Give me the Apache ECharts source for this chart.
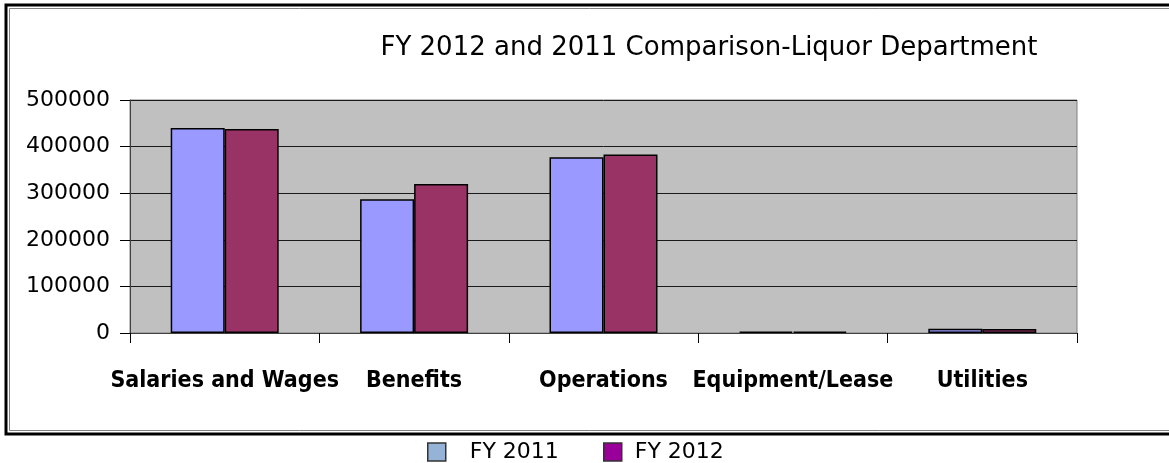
<!DOCTYPE html>
<html>
<head>
<meta charset="utf-8">
<title>FY 2012 and 2011 Comparison-Liquor Department</title>
<script src="https://cdn.jsdelivr.net/npm/echarts@6/dist/echarts.min.js"></script>
<style>
	html, body { margin: 0; padding: 0; background: #ffffff; }
	#chart { width: 1169px; height: 463px; }
</style>
</head>
<body>
<div id="chart"></div>
<script>
	// data
	const categories = ['Salaries and Wages', 'Benefits', 'Operations', 'Equipment/Lease', 'Utilities']
	const fy2011 = [440000, 287000, 377000, 3000, 9000]
	const fy2012 = [438000, 320000, 383000, 3000, 8500]
	const yTicks = [0, 100000, 200000, 300000, 400000, 500000]

	let mychart = echarts.init(document.getElementById('chart'))
	let option = {
		backgroundColor: '#ffffff',
		animation: false,
		title: {
			text: 'FY 2012 and 2011 Comparison-Liquor Department',
			left: 704,
			top: 30,
			textAlign: 'center',
			textStyle: {
				fontFamily: 'DejaVu Sans',
				fontSize: 26,
				fontWeight: 'normal',
				color: '#000000'
			}
		},
		legend: [{
				left: 427,
				top: 441,
				padding: 0,
				itemWidth: 18,
				itemHeight: 18,
				icon: 'rect',
				textStyle: {
					fontFamily: 'DejaVu Sans',
					fontSize: 22,
					color: '#000000',
					padding: [0, 0, 0, 19]
				},
				data: [{
					name: 'FY 2011',
					itemStyle: {
						color: '#95b3d7',
						borderColor: '#333333',
						borderWidth: 1.5
					}
				}]
			},
			{
				left: 603,
				top: 441,
				padding: 0,
				itemWidth: 18,
				itemHeight: 18,
				icon: 'rect',
				textStyle: {
					fontFamily: 'DejaVu Sans',
					fontSize: 22,
					color: '#000000',
					padding: [0, 0, 0, 8]
				},
				data: [{
					name: 'FY 2012',
					itemStyle: {
						color: '#990099',
						borderColor: '#333333',
						borderWidth: 1.5
					}
				}]
			}
		],
		graphic: [{
				type: 'rect',
				shape: { x: 6, y: 5, width: 1200, height: 429 },
				style: { fill: 'none', stroke: '#000000', lineWidth: 3 },
				silent: true
			},
			{
				type: 'rect',
				shape: { x: 9.5, y: 8.5, width: 1200, height: 422 },
				style: { fill: 'none', stroke: '#808080', lineWidth: 1 },
				silent: true
			}
		],
		grid: {
			left: 130,
			right: 92,
			top: 100,
			bottom: 130,
			show: true,
			backgroundColor: '#c0c0c0',
			borderColor: '#808080',
			borderWidth: 1
		},
		xAxis: {
			type: 'category',
			data: categories,
			axisLine: { lineStyle: { color: '#404040', width: 1 } },
			axisTick: { show: true, length: 10, lineStyle: { color: '#000000' } },
			axisLabel: {
				interval: 0,
				margin: 37,
				fontFamily: 'DejaVu Sans Condensed',
				fontWeight: 'bold',
				fontSize: 23,
				color: '#000000'
			}
		},
		yAxis: {
			type: 'value',
			min: yTicks[0],
			max: yTicks[yTicks.length - 1],
			interval: yTicks[1] - yTicks[0],
			axisLine: { show: true, lineStyle: { color: '#404040' } },
			axisTick: { show: true, length: 10, lineStyle: { color: '#000000' } },
			axisLabel: {
				margin: 20,
				formatter: function (v) { return String(v) },
				fontFamily: 'DejaVu Sans',
				fontSize: 22,
				color: '#000000'
			},
			splitLine: { lineStyle: { color: '#1a1a1a', width: 1 } }
		},
		series: [{
				name: 'FY 2011',
				type: 'bar',
				data: fy2011,
				barWidth: 54,
				barGap: '0%',
				itemStyle: {
					color: '#9999ff',
					borderColor: '#000000',
					borderWidth: 1.5
				}
			},
			{
				name: 'FY 2012',
				type: 'bar',
				data: fy2012,
				barWidth: 54,
				barGap: '0%',
				itemStyle: {
					color: '#993366',
					borderColor: '#000000',
					borderWidth: 1.5
				}
			}
		]
	}
	mychart.setOption(option)
</script>
</body>
</html>
